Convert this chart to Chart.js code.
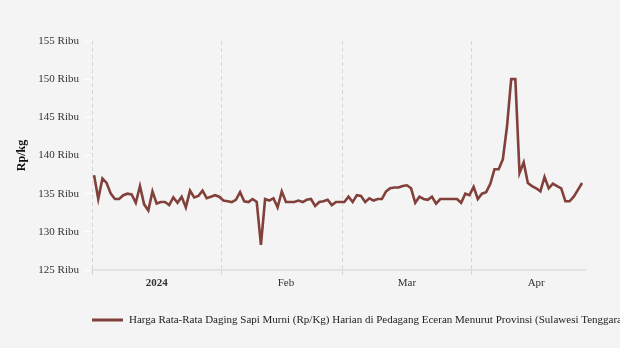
<!DOCTYPE html>
<html>
<head>
<meta charset="utf-8">
<script src="https://cdn.jsdelivr.net/npm/chart.js@4.4.1/dist/chart.umd.min.js"></script>
<style>
    html, body { margin: 0; padding: 0; background: #f4f4f4; }
    #wrap { width: 620px; height: 348px; position: relative; }
</style>
</head>
<body>
<div id="wrap"><canvas id="priceChart"></canvas></div>
<script>
// Daily prices (thousand Rp per kg), 1 Jan - 27 Apr 2024
const janValues = [137.4, 134.3, 137.0, 136.4, 135.0, 134.3, 134.3, 134.8, 135.0, 134.9,
    133.8, 136.0, 133.6, 132.8, 135.3, 133.7, 133.9, 133.9, 133.5, 134.5,
    133.8, 134.6, 133.2, 135.4, 134.5, 134.7, 135.4, 134.4, 134.6, 134.8, 134.6];
const febValues = [134.1, 134.0, 133.9, 134.2, 135.2, 134.0, 133.9, 134.3, 133.9, 128.3,
    134.3, 134.1, 134.4, 133.2, 135.3, 133.9, 133.9, 133.9, 134.1, 133.9,
    134.2, 134.3, 133.4, 133.9, 134.0, 134.2, 133.5, 133.9, 133.9];
const marValues = [133.9, 134.6, 133.9, 134.8, 134.7, 133.9, 134.4, 134.1, 134.3, 134.3,
    135.3, 135.7, 135.8, 135.8, 136.0, 136.1, 135.7, 133.8, 134.6, 134.3,
    134.2, 134.6, 133.7, 134.3, 134.3, 134.3, 134.3, 134.3, 133.8, 135.0, 134.8];
const aprValues = [135.9, 134.3, 135.0, 135.2, 136.3, 138.2, 138.2, 139.5, 143.8, 150.0,
    150.0, 137.7, 139.1, 136.4, 136.0, 135.7, 135.3, 137.2, 135.7, 136.3,
    136.0, 135.7, 134.0, 134.0, 134.6, 135.5, 136.4];

const monthLabels = ['2024', 'Feb', 'Mar', 'Apr'];
const monthStarts = [0, 31, 60, 91];   // day index of the 1st of each month
const labelDays = [15, 46, 75, 106];   // day index of the 16th, where labels sit
const yTicks = [125, 130, 135, 140, 145, 150, 155];

const seriesLabel = 'Harga Rata-Rata Daging Sapi Murni (Rp/Kg) Harian di Pedagang Eceran Menurut Provinsi (Sulawesi Tenggara)';
const lineColor = '#82403a';
const serif = "'Liberation Serif', 'Times New Roman', serif";

const allValues = [...janValues, ...febValues, ...marValues, ...aprValues];
const points = allValues.map((v, i) => ({ x: i, y: v }));
const boundaries = monthStarts.map((d) => d - 0.5);

const background = {
    id: 'background',
    beforeDraw(chart) {
        const ctx = chart.ctx;
        ctx.save();
        ctx.fillStyle = '#f4f4f4';
        ctx.fillRect(0, 0, chart.width, chart.height);
        ctx.restore();
    }
};

// legend drawn by hand so it starts at the plot's left edge
const bottomLegend = {
    id: 'bottomLegend',
    afterDraw(chart) {
        const ctx = chart.ctx;
        const ds = chart.data.datasets[0];
        const x = chart.chartArea.left;
        const y = 320;
        ctx.save();
        ctx.strokeStyle = ds.borderColor;
        ctx.lineWidth = 3;
        ctx.beginPath();
        ctx.moveTo(x, y);
        ctx.lineTo(x + 31, y);
        ctx.stroke();
        ctx.fillStyle = '#222';
        ctx.font = '11px ' + serif;
        ctx.textBaseline = 'middle';
        ctx.fillText(ds.label, x + 37, y + 0.5);
        ctx.restore();
    }
};

new Chart(document.getElementById('priceChart'), {
    type: 'line',
    data: {
        datasets: [{
            label: seriesLabel,
            data: points,
            borderColor: lineColor,
            backgroundColor: lineColor,
            borderWidth: 2.6,
            pointRadius: 0,
            tension: 0,
            fill: false
        }]
    },
    options: {
        responsive: true,
        maintainAspectRatio: false,
        animation: false,
        layout: { padding: { top: 41, right: 35, left: 0, bottom: 0 } },
        plugins: {
            legend: { display: false },
            tooltip: { enabled: false }
        },
        scales: {
            x: {
                type: 'linear',
                min: -0.5,
                max: 117.7,
                afterBuildTicks(scale) {
                    scale.ticks = [...boundaries, ...labelDays]
                        .sort((a, b) => a - b)
                        .map((v) => ({ value: v }));
                },
                afterFit(scale) { scale.height = 78; },
                ticks: {
                    autoSkip: false,
                    maxRotation: 0,
                    padding: 2,
                    color: '#333',
                    callback(value) {
                        const i = labelDays.indexOf(value);
                        return i >= 0 ? monthLabels[i] : '';
                    },
                    font(ctx) {
                        const bold = ctx.tick && ctx.tick.value === labelDays[0];
                        return { family: serif, size: 11, weight: bold ? 'bold' : 'normal' };
                    }
                },
                grid: {
                    color(ctx) {
                        return ctx.tick && boundaries.includes(ctx.tick.value) ? '#d6d6d6' : 'rgba(0,0,0,0)';
                    },
                    lineWidth: 1,
                    tickLength: 5
                },
                border: { display: true, color: '#e2e2e2', width: 2, dash: [4, 3] }
            },
            y: {
                min: 125,
                max: 155,
                afterBuildTicks(scale) {
                    scale.ticks = yTicks.map((v) => ({ value: v }));
                },
                afterFit(scale) { scale.width = 92; },
                ticks: {
                    padding: 6,
                    color: '#333',
                    font: { family: serif, size: 11 },
                    callback: (value) => value + ' Ribu'
                },
                grid: {
                    drawOnChartArea: false,
                    color: '#ffffff',
                    tickLength: 7
                },
                border: { display: false },
                title: {
                    display: true,
                    text: 'Rp/kg',
                    color: '#111',
                    font: { family: serif, size: 12, weight: 'bold' },
                    padding: { top: 15, bottom: 0 }
                }
            }
        }
    },
    plugins: [background, bottomLegend]
});
</script>
</body>
</html>
